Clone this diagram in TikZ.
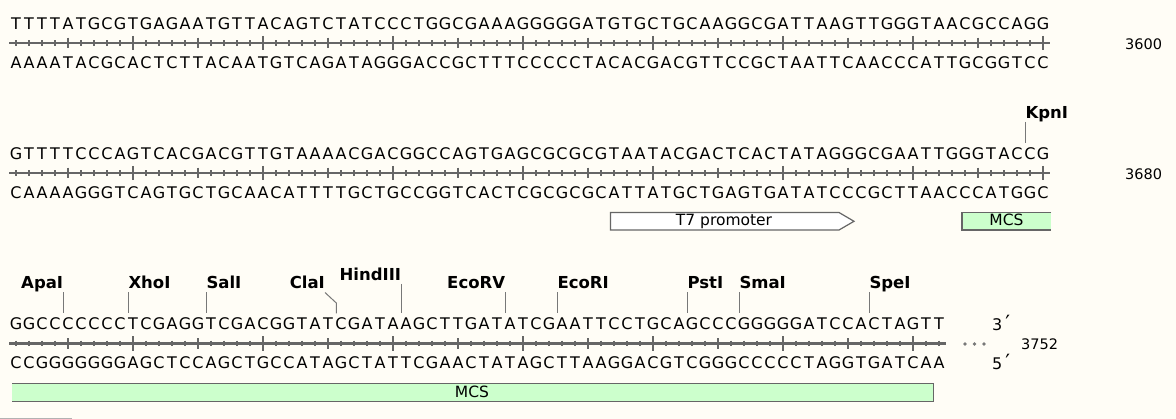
\documentclass[tikz,border=0pt]{standalone}
\usepackage{fontspec}
\setmainfont{DejaVu Sans}
\usepackage{tikz}
\definecolor{paper}{RGB}{255,253,246}
\definecolor{rulegray}{RGB}{102,102,102}
\definecolor{cutgray}{RGB}{120,120,120}
\definecolor{mcsgreen}{RGB}{204,255,204}
\tikzset{
	ntbase/.style={anchor=base, inner sep=0pt, font=\fontsize{16}{19}\selectfont},
	backbone/.style={line width=2.2pt, draw=rulegray},
	tickmark/.style={line width=1.6pt, draw=rulegray},
	enzyme/.style={inner sep=0pt, text height=11pt, text depth=3.5pt, font=\fontsize{16.5}{19}\selectfont\bfseries},
	cutline/.style={line width=1pt, draw=cutgray},
	posnum/.style={anchor=west, inner sep=0pt, font=\fontsize{14.5}{17}\selectfont},
	feature/.style={line width=1.2pt, draw=rulegray},
	featlabel/.style={anchor=base, inner sep=0pt, font=\fontsize{15.5}{18}\selectfont},
}
\newcount\ntcount
\def\putbases#1#2#3{\ntcount=0\def\ntrowy{#1}\def\ntname{#2}\nextbase#3\relax}
\def\nextbase#1{\ifx#1\relax\else\advance\ntcount by 1
	\node[ntbase] (\ntname\the\ntcount) at ({3+13*\the\ntcount},\ntrowy) {#1};%
	\expandafter\nextbase\fi}
\def\putruler#1#2{%
	\draw[backbone] (9,#1) -- ({10+13*#2},#1);
	\foreach \i in {1,...,#2}{%
		\pgfmathsetmacro\tl{mod(\i,10)==0 ? 7.2 : (mod(\i,5)==0 ? 5.3 : 2.8)}
		\draw[tickmark] ({3+13*\i},#1-\tl) -- ({3+13*\i},#1+\tl);}}

\begin{document}
\begin{tikzpicture}[x=1pt,y=-1pt]
	%%%%% START %%%%%
	
	\fill[paper] (0,0) rectangle (1176,419);
	\useasboundingbox (0,0) rectangle (1176,419);
	
	% first row
	\putbases{29.3}{topa}{TTTTATGCGTGAGAATGTTACAGTCTATCCCTGGCGAAAGGGGGATGTGCTGCAAGGCGATTAAGTTGGGTAACGCCAGG}
	\putruler{43}{80}
	\putbases{68.5}{bota}{AAAATACGCACTCTTACAATGTCAGATAGGGACCGCTTTCCCCCTACACGACGTTCCGCTAATTCAACCCATTGCGGTCC}
	\node[posnum] (n3600) at (1125,44) {3600};
	
	% second row
	\putbases{159.3}{topb}{GTTTTCCCAGTCACGACGTTGTAAAACGACGGCCAGTGAGCGCGCGTAATACGACTCACTATAGGGCGAATTGGGTACCG}
	\putruler{173}{80}
	\putbases{198.5}{botb}{CAAAAGGGTCAGTGCTGCAACATTTTGCTGCCGGTCACTCGCGCGCATTATGCTGAGTGATATCCCGCTTAACCCATGGC}
	\node[posnum] (n3680) at (1125,174.5) {3680};
	
	\coordinate (kpnIcut) at (1025.3,143);
	\node[enzyme, anchor=south west] (kpnI) at (1025.3,121.8) {KpnI};
	\draw[cutline] (kpnI.south west) -- (kpnIcut);
	
	\draw[feature, fill=white] (610.5,212.5) -- (839,212.5) -- (854,221.3) -- (839,230) -- (610.5,230) -- cycle;
	\node[featlabel] (t7) at (724,226) {T7 promoter};
	\fill[mcsgreen] (962,212.5) rectangle (1051,230);
	\draw[feature] (1051,212.5) -- (962,212.5) -- (962,230) -- (1051,230);
	\node[featlabel] (mcsa) at (1006.5,226) {MCS};
	
	% third row
	\putbases{329.8}{topc}{GGCCCCCCCTCGAGGTCGACGGTATCGATAAGCTTGATATCGAATTCCTGCAGCCCGGGGGATCCACTAGTT}
	\putruler{343.5}{72}
	\putbases{369}{botc}{CCGGGGGGGAGCTCCAGCTGCCATAGCTATTCGAACTATAGCTTAAGGACGTCGGGCCCCCTAGGTGATCAA}
	\fill[cutgray] (965,344) circle[radius=1.9pt];
	\fill[cutgray] (974.5,344) circle[radius=1.9pt];
	\fill[cutgray] (984,344) circle[radius=1.9pt];
	\node[posnum] (n3752) at (1021,344.5) {3752};
	\node[ntbase, anchor=base west] (three) at (992,331) {3\hspace{3pt}{\fontsize{21}{21}\selectfont ′}};
	\node[ntbase, anchor=base west] (five) at (992,369.5) {5\hspace{3pt}{\fontsize{21}{21}\selectfont ′}};
	
	\coordinate (apaIcut) at (63.3,313.3);
	\node[enzyme, anchor=south east] (apaI) at (63.3,292.5) {ApaI};
	\draw[cutline] (apaI.south east) -- (apaIcut);
	
	\coordinate (xhoIcut) at (128.3,313.3);
	\node[enzyme, anchor=south west] (xhoI) at (128.3,292.5) {XhoI};
	\draw[cutline] (xhoI.south west) -- (xhoIcut);
	
	\coordinate (salIcut) at (206.3,313.3);
	\node[enzyme, anchor=south west] (salI) at (206.3,292.5) {SalI};
	\draw[cutline] (salI.south west) -- (salIcut);
	
	\coordinate (claIbend) at (336.3,303);
	\coordinate (claIcut) at (336.3,313.3);
	\node[enzyme, anchor=south east] (claI) at (325,292.5) {ClaI};
	\draw[cutline] (claI.south east) -- (claIbend) -- (claIcut);
	
	\coordinate (hindIIIcut) at (401.3,313.3);
	\node[enzyme, anchor=south east] (hindIII) at (401.3,283.8) {HindIII};
	\draw[cutline] (hindIII.south east) -- (hindIIIcut);
	
	\coordinate (ecoRVcut) at (505.3,313.3);
	\node[enzyme, anchor=south east] (ecoRV) at (505.3,292.5) {EcoRV};
	\draw[cutline] (ecoRV.south east) -- (ecoRVcut);
	
	\coordinate (ecoRIcut) at (557.3,313.3);
	\node[enzyme, anchor=south west] (ecoRI) at (557.3,292.5) {EcoRI};
	\draw[cutline] (ecoRI.south west) -- (ecoRIcut);
	
	\coordinate (pstIcut) at (687.3,313.3);
	\node[enzyme, anchor=south west] (pstI) at (687.3,292.5) {PstI};
	\draw[cutline] (pstI.south west) -- (pstIcut);
	
	\coordinate (smaIcut) at (739.3,313.3);
	\node[enzyme, anchor=south west] (smaI) at (739.3,292.5) {SmaI};
	\draw[cutline] (smaI.south west) -- (smaIcut);
	
	\coordinate (speIcut) at (869.3,313.3);
	\node[enzyme, anchor=south west] (speI) at (869.3,292.5) {SpeI};
	\draw[cutline] (speI.south west) -- (speIcut);
	
	\fill[mcsgreen] (12,383.3) rectangle (933.3,401.3);
	\draw[feature] (12,383.3) -- (933.3,383.3) -- (933.3,401.3) -- (12,401.3);
	\node[featlabel] (mcsb) at (472,397.7) {MCS};
	
	\draw[line width=1.5pt, color=black!30] (0,418.5) -- (72,418.5);
	
	%%%%% END %%%%%
\end{tikzpicture}
\end{document}
